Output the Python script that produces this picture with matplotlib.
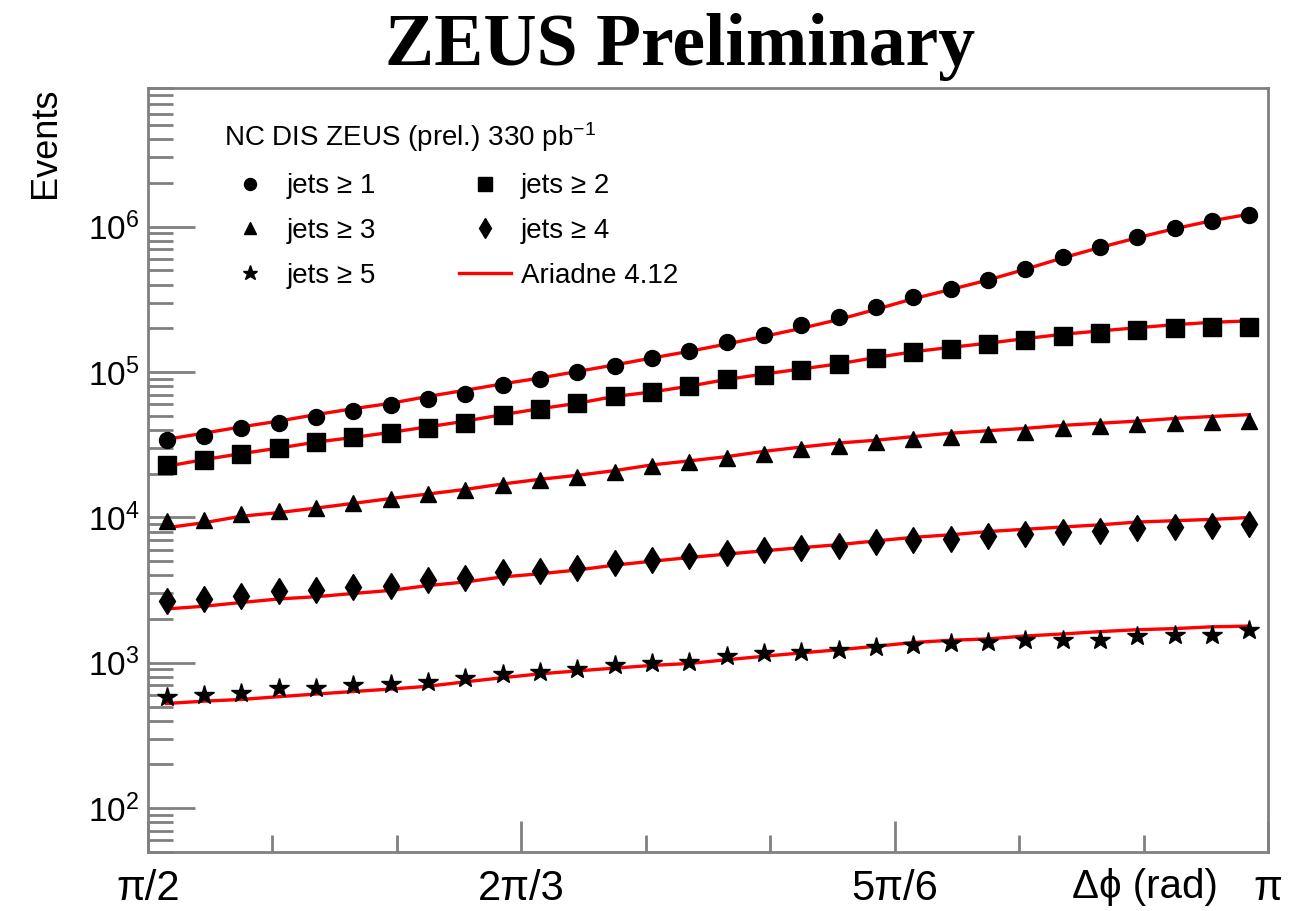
import matplotlib
matplotlib.use("Agg")
import matplotlib.pyplot as plt
import numpy as np
from matplotlib.ticker import FixedLocator, FixedFormatter, LogLocator, NullFormatter

plt.rcParams['font.family'] = ['Liberation Sans', 'DejaVu Sans']
plt.rcParams['mathtext.fontset'] = 'custom'
plt.rcParams['mathtext.rm'] = 'Liberation Sans'
plt.rcParams['mathtext.it'] = 'Liberation Sans:italic'

# 30 bins of delta phi between pi/2 and pi
nbins = 30
edges = np.linspace(np.pi / 2, np.pi, nbins + 1)
centers = 0.5 * (edges[:-1] + edges[1:])

jets1 = [3.4e4, 3.65e4, 4.1e4, 4.5e4, 4.9e4, 5.4e4, 5.9e4, 6.5e4, 7.1e4, 8.1e4,
         8.9e4, 1.0e5, 1.1e5, 1.26e5, 1.4e5, 1.6e5, 1.8e5, 2.1e5, 2.4e5, 2.8e5,
         3.3e5, 3.7e5, 4.3e5, 5.1e5, 6.2e5, 7.3e5, 8.5e5, 9.8e5, 1.1e6, 1.2e6]
jets2 = [2.3e4, 2.5e4, 2.75e4, 3.0e4, 3.3e4, 3.55e4, 3.8e4, 4.15e4, 4.5e4, 5.1e4,
         5.6e4, 6.1e4, 6.8e4, 7.3e4, 8.0e4, 8.9e4, 9.6e4, 1.04e5, 1.13e5, 1.26e5,
         1.37e5, 1.45e5, 1.55e5, 1.67e5, 1.78e5, 1.87e5, 1.96e5, 2.0e5, 2.05e5, 2.05e5]
jets3 = [9.4e3, 9.6e3, 1.05e4, 1.1e4, 1.17e4, 1.25e4, 1.35e4, 1.44e4, 1.54e4, 1.66e4,
         1.8e4, 1.9e4, 2.05e4, 2.25e4, 2.4e4, 2.55e4, 2.75e4, 2.95e4, 3.1e4, 3.3e4,
         3.45e4, 3.6e4, 3.75e4, 3.9e4, 4.1e4, 4.25e4, 4.4e4, 4.5e4, 4.55e4, 4.6e4]
jets4 = [2.65e3, 2.75e3, 2.9e3, 3.1e3, 3.15e3, 3.3e3, 3.4e3, 3.7e3, 3.85e3, 4.2e3,
         4.3e3, 4.5e3, 4.9e3, 5.1e3, 5.4e3, 5.7e3, 6.0e3, 6.2e3, 6.4e3, 6.8e3,
         7.0e3, 7.1e3, 7.5e3, 7.7e3, 8.0e3, 8.1e3, 8.4e3, 8.6e3, 8.7e3, 9.0e3]
jets5 = [585, 600, 620, 670, 670, 700, 720, 740, 790, 840,
         870, 910, 960, 1000, 1020, 1110, 1160, 1180, 1230, 1290,
         1330, 1370, 1390, 1440, 1440, 1440, 1520, 1550, 1550, 1670]

ariadne1 = [3.45e4, 3.8e4, 4.2e4, 4.6e4, 5.1e4, 5.6e4, 6.1e4, 6.8e4, 7.5e4, 8.3e4,
            9.1e4, 1.01e5, 1.12e5, 1.25e5, 1.39e5, 1.56e5, 1.76e5, 2.0e5, 2.3e5, 2.7e5,
            3.2e5, 3.7e5, 4.3e5, 5.1e5, 6.1e5, 7.2e5, 8.4e5, 9.7e5, 1.1e6, 1.22e6]
ariadne2 = [2.25e4, 2.5e4, 2.75e4, 3.0e4, 3.3e4, 3.55e4, 3.85e4, 4.2e4, 4.6e4, 5.1e4,
            5.6e4, 6.1e4, 6.8e4, 7.3e4, 8.0e4, 8.9e4, 9.7e4, 1.05e5, 1.14e5, 1.26e5,
            1.38e5, 1.48e5, 1.58e5, 1.7e5, 1.82e5, 1.92e5, 2.02e5, 2.12e5, 2.2e5, 2.25e5]
ariadne3 = [8.5e3, 9.2e3, 1.02e4, 1.08e4, 1.16e4, 1.25e4, 1.35e4, 1.45e4, 1.56e4, 1.7e4,
            1.83e4, 1.95e4, 2.1e4, 2.3e4, 2.45e4, 2.62e4, 2.85e4, 3.05e4, 3.25e4, 3.4e4,
            3.6e4, 3.8e4, 3.95e4, 4.1e4, 4.3e4, 4.45e4, 4.6e4, 4.8e4, 4.95e4, 5.1e4]
ariadne4 = [2.35e3, 2.45e3, 2.6e3, 2.75e3, 2.85e3, 3.0e3, 3.15e3, 3.4e3, 3.6e3, 3.9e3,
            4.1e3, 4.35e3, 4.7e3, 5.0e3, 5.3e3, 5.6e3, 5.9e3, 6.2e3, 6.5e3, 6.9e3,
            7.3e3, 7.6e3, 8.0e3, 8.3e3, 8.6e3, 8.9e3, 9.3e3, 9.5e3, 9.7e3, 1.0e4]
ariadne5 = [525, 545, 560, 585, 610, 635, 660, 690, 740, 790,
            840, 880, 920, 960, 990, 1050, 1110, 1170, 1230, 1300,
            1380, 1430, 1460, 1530, 1580, 1640, 1690, 1720, 1770, 1790]

data = [jets1, jets2, jets3, jets4, jets5]
models = [ariadne1, ariadne2, ariadne3, ariadne4, ariadne5]
labels = ["jets \u2265 1", "jets \u2265 2", "jets \u2265 3", "jets \u2265 4", "jets \u2265 5"]
markers = ["o", "s", "^", "d", "*"]
msizes = [11.5, 13, 12, 13, 15]

xticks_major = [np.pi / 2, 2 * np.pi / 3, 5 * np.pi / 6, np.pi]
xtick_labels = ["\u03c0/2", "2\u03c0/3", "5\u03c0/6", "\u03c0"]

fig = plt.figure(figsize=(13.07, 9.11), dpi=100)
ax = fig.add_axes([0.1132, 0.0648, 0.857, 0.8386])

handles = []
model_line = None
for d, m, lab, mk, ms in zip(data, models, labels, markers, msizes):
    model_line, = ax.plot(centers, m, color="#ff0000", lw=2.4, zorder=2)
    h, = ax.plot(centers, d, linestyle="none", marker=mk, markersize=ms,
                 color="black", zorder=3, label=lab)
    handles.append(h)
model_line.set_label("Ariadne 4.12")

ax.set_yscale("log")
ax.set_xlim(np.pi / 2, np.pi)
ax.set_ylim(50, 9e6)

grey = "#808080"
for side in ["left", "right", "top", "bottom"]:
    ax.spines[side].set_color(grey)
    ax.spines[side].set_linewidth(2)

ax.xaxis.set_major_locator(FixedLocator(xticks_major))
ax.xaxis.set_major_formatter(FixedFormatter(xtick_labels))
ax.xaxis.set_minor_locator(FixedLocator(np.pi / 2 + np.arange(1, 9) * np.pi / 18))
ax.yaxis.set_major_locator(LogLocator(base=10, numticks=20))
ax.yaxis.set_minor_locator(LogLocator(base=10, subs=np.arange(2, 10), numticks=20))
ax.yaxis.set_minor_formatter(NullFormatter())

ax.tick_params(axis="both", which="both", direction="in", color=grey, width=2)
ax.tick_params(axis="y", which="major", length=34, labelsize=24, pad=6)
ax.tick_params(axis="y", which="minor", length=18)
ax.tick_params(axis="x", which="major", length=22, labelsize=30, pad=12)
ax.tick_params(axis="x", which="minor", length=12)

ax.set_ylabel("Events", fontsize=26, loc="top", labelpad=18)
ax.text(0.955, -0.021, "\u0394\u03d5 (rad)", transform=ax.transAxes,
        ha="right", va="top", fontsize=29)

fig.text(0.52, 0.929, "ZEUS Preliminary", ha="center", va="baseline",
         fontsize=53, fontweight="bold", family=["Liberation Serif", "DejaVu Serif"])

order = [handles[0], handles[2], handles[4], handles[1], handles[3], model_line]
leg = ax.legend(handles=order, ncol=2, loc="upper left", bbox_to_anchor=(0.046, 0.99),
                frameon=False, fontsize=20, title="NC DIS ZEUS (prel.) 330 pb$^{-1}$",
                title_fontsize=20, alignment="left", markerscale=0.75,
                handlelength=1.87, handletextpad=0.36, columnspacing=3.0,
                labelspacing=0.68)

fig.savefig("out.png", dpi=100)
